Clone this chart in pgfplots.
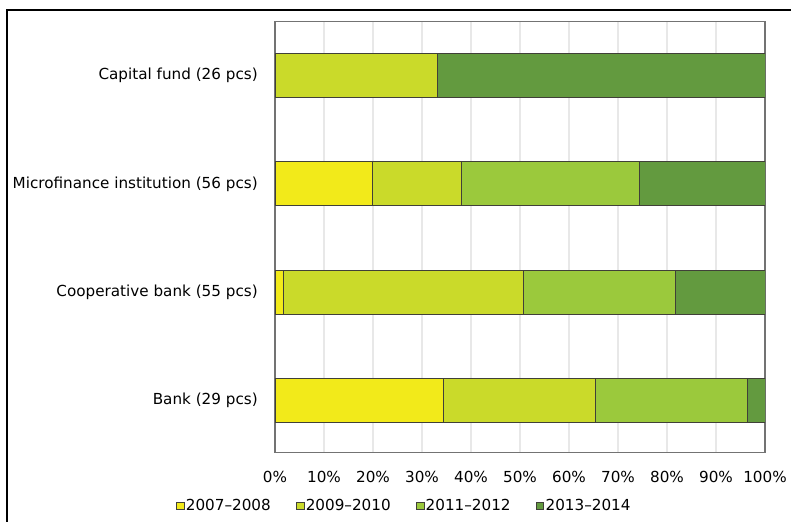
\documentclass[border=0pt]{standalone}
\usepackage{pgfplots}
\usepackage{pgfplotstable}
\pgfplotsset{compat=1.18}
\usepackage{fontspec}
\setmainfont{DejaVu Sans}
\definecolor{cA}{HTML}{F2EA1A}
\definecolor{cB}{HTML}{CADA2A}
\definecolor{cC}{HTML}{9BC93C}
\definecolor{cD}{HTML}{639A3F}
\definecolor{brd}{HTML}{404038}
\pgfplotstableread{
y a b c d
0 34.4 30.9 31.1 3.6
1 1.7 49.1 30.9 18.3
2 19.9 18.2 36.3 25.6
3 0 33.2 0 66.8
}\data
\pgfplotsset{mylegend/.style={legend image code/.code={\draw[##1,line width=0.6pt] (0pt,-2.8pt) rectangle (5.6pt,2.8pt);}}}
\begin{document}
\begin{tikzpicture}
\useasboundingbox (0,0) rectangle (593.25pt,390.75pt);
\draw[line width=1.9pt] (5.25pt,-5pt) -- (5.25pt,383.25pt) -- (600pt,383.25pt);
\begin{axis}[
  at={(206.25pt,51.4pt)}, anchor=south west,
  scale only axis, width=367.5pt, height=323.25pt,
  xbar stacked, bar width=33pt,
  xmin=0, xmax=100, ymin=-0.48, ymax=3.5,
  xtick={0,10,...,100},
  xticklabels={0\%,10\%,20\%,30\%,40\%,50\%,60\%,70\%,80\%,90\%,100\%},
  ytick={0,1,2,3},
  yticklabels={Bank (29 pcs),Cooperative bank (55 pcs),Microfinance institution (56 pcs),Capital fund (26 pcs)},
  major tick length=0pt,
  tick label style={font=\fontsize{11.4}{13}\selectfont},
  yticklabel style={anchor=east, inner sep=0pt, xshift=-12.75pt},
  xticklabel style={anchor=center, inner sep=0pt, yshift=-18pt},
  xmajorgrids, major grid style={draw=black!9, line width=0.8pt},
  axis line style={draw=black!55, line width=1pt},
  legend columns=4,
  legend style={at={(-0.202,-0.124)}, anchor=west, draw=none, fill=none, inner sep=0pt,
    font=\fontsize{11.4}{13}\selectfont,
    nodes={inner xsep=1pt, inner ysep=0pt},
    /tikz/every even column/.append style={column sep=18pt}},
]
\addplot[fill=cA, draw=brd, line width=0.7pt, mylegend] table[x=a,y=y]{\data};
\addplot[fill=cB, draw=brd, line width=0.7pt, mylegend] table[x=b,y=y]{\data};
\addplot[fill=cC, draw=brd, line width=0.7pt, mylegend] table[x=c,y=y]{\data};
\addplot[fill=cD, draw=brd, line width=0.7pt, mylegend] table[x=d,y=y]{\data};
\legend{2007--2008,2009--2010,2011--2012,2013--2014}
\end{axis}
\end{tikzpicture}
\end{document}
